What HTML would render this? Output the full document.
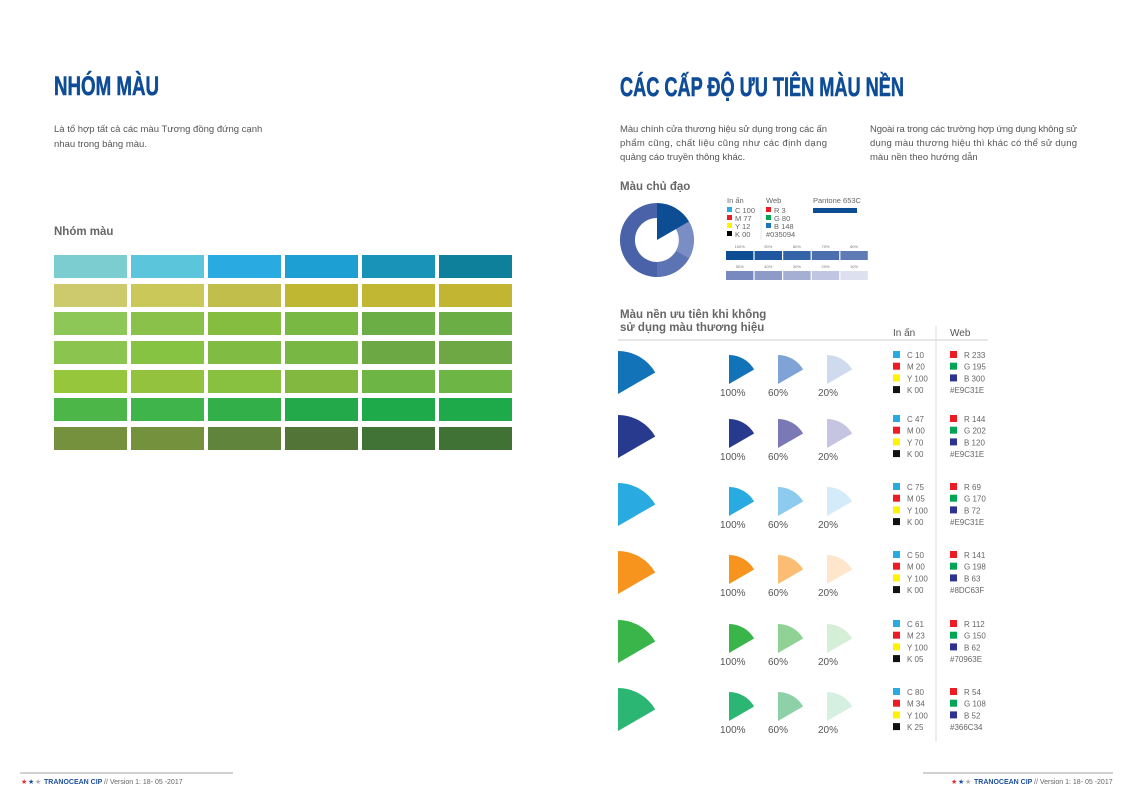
<!DOCTYPE html>
<html><head><meta charset="utf-8"><style>
html,body{margin:0;padding:0;background:#fff;}
svg{display:block;}
text{font-family:"Liberation Sans",sans-serif;}
.h{font-family:"Liberation Sans",sans-serif;font-weight:bold;fill:#0f4c97;stroke:#0f4c97;stroke-width:0.6;}
.b{font-size:9.5px;fill:#555;}
.s{font-size:7.5px;fill:#666;}
.t{font-size:8px;fill:#666;}
.p{font-size:10px;fill:#555;}
.sub{font-size:11.5px;font-weight:bold;fill:#666;}
</style></head><body>
<svg width="1131" height="800" viewBox="0 0 1131 800" xmlns="http://www.w3.org/2000/svg">
<!-- LEFT PAGE -->
<text class="h" x="54" y="95" font-size="27" textLength="105" lengthAdjust="spacingAndGlyphs">NHÓM MÀU</text>
<text class="b" x="54" y="132">Là tổ hợp tất cả các màu Tương đồng đứng cạnh</text>
<text class="b" x="54" y="147">nhau trong bảng màu.</text>
<text class="sub" x="54" y="235">Nhóm màu</text>
<g id="grid"></g>
<!-- footer left -->
<line x1="20" y1="773" x2="233" y2="773" stroke="#888" stroke-width="0.8"/>
<text x="21" y="784" font-size="7" fill="#e62a2a">★</text><text x="28" y="784" font-size="7" fill="#1f4fa0">★</text><text x="35" y="784" font-size="7" fill="#aaa">★</text>
<text x="44" y="784" font-size="7" font-weight="bold" fill="#1f4fa0">TRANOCEAN CIP</text>
<text x="104" y="784" font-size="7" fill="#666">//  Version 1:  18- 05 -2017</text>

<!-- RIGHT PAGE -->
<text class="h" x="620" y="96" font-size="27" textLength="284" lengthAdjust="spacingAndGlyphs">CÁC CẤP ĐỘ ƯU TIÊN MÀU NỀN</text>
<text class="b" x="620" y="132" textLength="207" lengthAdjust="spacing">Màu chính cửa thương hiệu sử dụng trong các ấn</text>
<text class="b" x="620" y="146" textLength="207" lengthAdjust="spacing">phẩm cũng, chất liệu cũng như các định dạng</text>
<text class="b" x="620" y="160">quảng cáo truyền thông khác.</text>
<text class="b" x="870" y="132" textLength="207" lengthAdjust="spacing">Ngoài ra trong các trường hợp ứng dụng không sử</text>
<text class="b" x="870" y="146" textLength="207" lengthAdjust="spacing">dụng màu thương hiệu thì khác có thể sử dụng</text>
<text class="b" x="870" y="160">màu nền theo hướng dẫn</text>

<text class="sub" x="620" y="190">Màu chủ đạo</text>
<!-- donut -->
<g>
<path d="M657,203 A37,37 0 1,0 689,221.5 L676,229 A22,22 0 1,1 657,218 Z" fill="#4a63a8"/>
<path d="M689,221.5 A37,37 0 0,1 689,258.5 L676,251 A22,22 0 0,0 676,229 Z" fill="#7b8dc5"/>
<path d="M689,258.5 A37,37 0 0,1 657,277 L657,262 A22,22 0 0,0 676,251 Z" fill="#5c74b4"/>
<path d="M657,240 L657,203 A37,37 0 0,1 689,221.5 Z" fill="#0d4d94"/>
</g>
<text class="s" x="727" y="203">In ấn</text>
<text class="s" x="766" y="203">Web</text>
<text class="s" x="813" y="203">Pantone 653C</text>
<rect x="813" y="208" width="44" height="5" fill="#0d4d94"/>
<line x1="761" y1="206" x2="761" y2="240" stroke="#ddd" stroke-width="0.6"/>
<rect x="727" y="207" width="5" height="5" fill="#29abe2"/><text class="s" x="735" y="213">C 100</text>
<rect x="727" y="215" width="5" height="5" fill="#ed1c24"/><text class="s" x="735" y="221">M 77</text>
<rect x="727" y="223" width="5" height="5" fill="#fff200"/><text class="s" x="735" y="229">Y 12</text>
<rect x="727" y="231" width="5" height="5" fill="#000"/><text class="s" x="735" y="237">K 00</text>
<rect x="766" y="207" width="5" height="5" fill="#ed1c24"/><text class="s" x="774" y="213">R 3</text>
<rect x="766" y="215" width="5" height="5" fill="#00a651"/><text class="s" x="774" y="221">G 80</text>
<rect x="766" y="223" width="5" height="5" fill="#1c75bc"/><text class="s" x="774" y="229">B 148</text>
<text class="s" x="766" y="237">#035094</text>
<g id="tints"></g>

<text class="sub" x="620" y="318">Màu nền ưu tiên khi không</text>
<text class="sub" x="620" y="331">sử dụng màu thương hiệu</text>
<text x="893" y="336" font-size="10" fill="#555">In ấn</text>
<text x="950" y="336" font-size="10" fill="#555">Web</text>
<line x1="618" y1="340" x2="988" y2="340" stroke="#ccc" stroke-width="1"/>
<line x1="936" y1="326" x2="936" y2="742" stroke="#ddd" stroke-width="1"/>
<g id="rows"></g>

<!-- footer right -->
<line x1="923" y1="773" x2="1113" y2="773" stroke="#888" stroke-width="0.8"/>
<text x="951" y="784" font-size="7" fill="#e62a2a">★</text><text x="958" y="784" font-size="7" fill="#1f4fa0">★</text><text x="965" y="784" font-size="7" fill="#aaa">★</text>
<text x="974" y="784" font-size="7" font-weight="bold" fill="#1f4fa0">TRANOCEAN CIP</text>
<text x="1034" y="784" font-size="7" fill="#666">//  Version 1:  18- 05 -2017</text>
</svg>
<script>
var NS="http://www.w3.org/2000/svg";
function el(p,tag,a,txt){var e=document.createElementNS(NS,tag);for(var k in a)e.setAttribute(k,a[k]);if(txt!=null)e.textContent=txt;p.appendChild(e);return e;}
var G=[["#7ccdd0","#5bc6db","#29abe2","#1e9fd3","#1a93b8","#0e809c"],
["#cdca6e","#cbc85a","#c1be4c","#bfb632","#c2b732","#c2b531"],
["#8dc757","#89c14a","#85bd40","#79b843","#6aae45","#6aae45"],
["#8cc450","#87c342","#80bc44","#78b743","#6ca844","#6ea844"],
["#95c63c","#92c23e","#88c13f","#82b840","#6db545","#6db545"],
["#4db649","#3fb44a","#33af4a","#23a94a","#1ea94a","#1ea94a"],
["#76913d","#74923d","#60843b","#527436","#407335","#417235"]];
var g=document.getElementById("grid");
var ry=[255,284,312,341,370,398,427];
for(var r=0;r<7;r++)for(var c=0;c<6;c++)el(g,"rect",{x:54+c*77,y:ry[r],width:73,height:23,fill:G[r][c]});
var t=document.getElementById("tints");
var t1=["#0d4d94","#1f58a0","#3563a7","#4a6eae","#5f7bb6"],t2=["#7889c0","#8e9bc9","#a5aed3","#c0c6e1","#dde0ee"];
var l1=["100%","90%","80%","70%","60%"],l2=["50%","40%","30%","20%","10%"];
for(var i=0;i<5;i++){var x=726+i*28.6;
el(t,"rect",{x:x,y:251,width:27.4,height:9,fill:t1[i]});
el(t,"rect",{x:x,y:271,width:27.4,height:9,fill:t2[i]});
el(t,"text",{x:x+13.7,y:248,"font-size":4,"text-anchor":"middle",fill:"#777"},l1[i]);
el(t,"text",{x:x+13.7,y:268,"font-size":4,"text-anchor":"middle",fill:"#777"},l2[i]);}
var R=[[351,["#1273b9","#7fa3d6","#cfdaee"],["C 10","M 20","Y 100","K 00"],["R 233","G 195","B 300","#E9C31E"]],
[415,["#283a8e","#7a79b5","#c5c5e2"],["C 47","M 00","Y 70","K 00"],["R 144","G 202","B 120","#E9C31E"]],
[483,["#29abe2","#8ccbee","#d4ebf9"],["C 75","M 05","Y 100","K 00"],["R 69","G 170","B 72","#E9C31E"]],
[551,["#f7941d","#fbbd74","#fde6cb"],["C 50","M 00","Y 100","K 00"],["R 141","G 198","B 63","#8DC63F"]],
[620,["#39b54a","#90d196","#d5eed6"],["C 61","M 23","Y 100","K 05"],["R 112","G 150","B 62","#70963E"]],
[688,["#2bb673","#8ed1a9","#d5efe0"],["C 80","M 34","Y 100","K 25"],["R 54","G 108","B 52","#366C34"]]];
var rw=document.getElementById("rows");
function wedge(cx,cy,r,f){el(rw,"path",{d:"M"+cx+","+cy+" L"+cx+","+(cy-r)+" A"+r+","+r+" 0 0,1 "+(cx+r*0.866)+","+(cy-r/2)+" Z",fill:f});}
var sc=["#29abe2","#ed1c24","#fff200","#111"],wc=["#ed1c24","#00a651","#2e3192"];
R.forEach(function(d){var y=d[0];
wedge(618,y+43,43,d[1][0]);
wedge(729,y+33,29,d[1][0]);wedge(778,y+33,29,d[1][1]);wedge(827,y+33,29,d[1][2]);
el(rw,"text",{class:"p",x:720,y:y+45},"100%");el(rw,"text",{class:"p",x:768,y:y+45},"60%");el(rw,"text",{class:"p",x:818,y:y+45},"20%");
for(var i=0;i<4;i++){var yy=y+i*11.7;
el(rw,"rect",{x:893,y:yy,width:7,height:7,fill:sc[i]});
el(rw,"text",{class:"t",x:907,y:yy+7},d[2][i]);
if(i<3){el(rw,"rect",{x:950,y:yy,width:7,height:7,fill:wc[i]});el(rw,"text",{class:"t",x:964,y:yy+7},d[3][i]);}
else el(rw,"text",{class:"t",x:950,y:yy+7},d[3][i]);}
});
</script>
</body></html>
